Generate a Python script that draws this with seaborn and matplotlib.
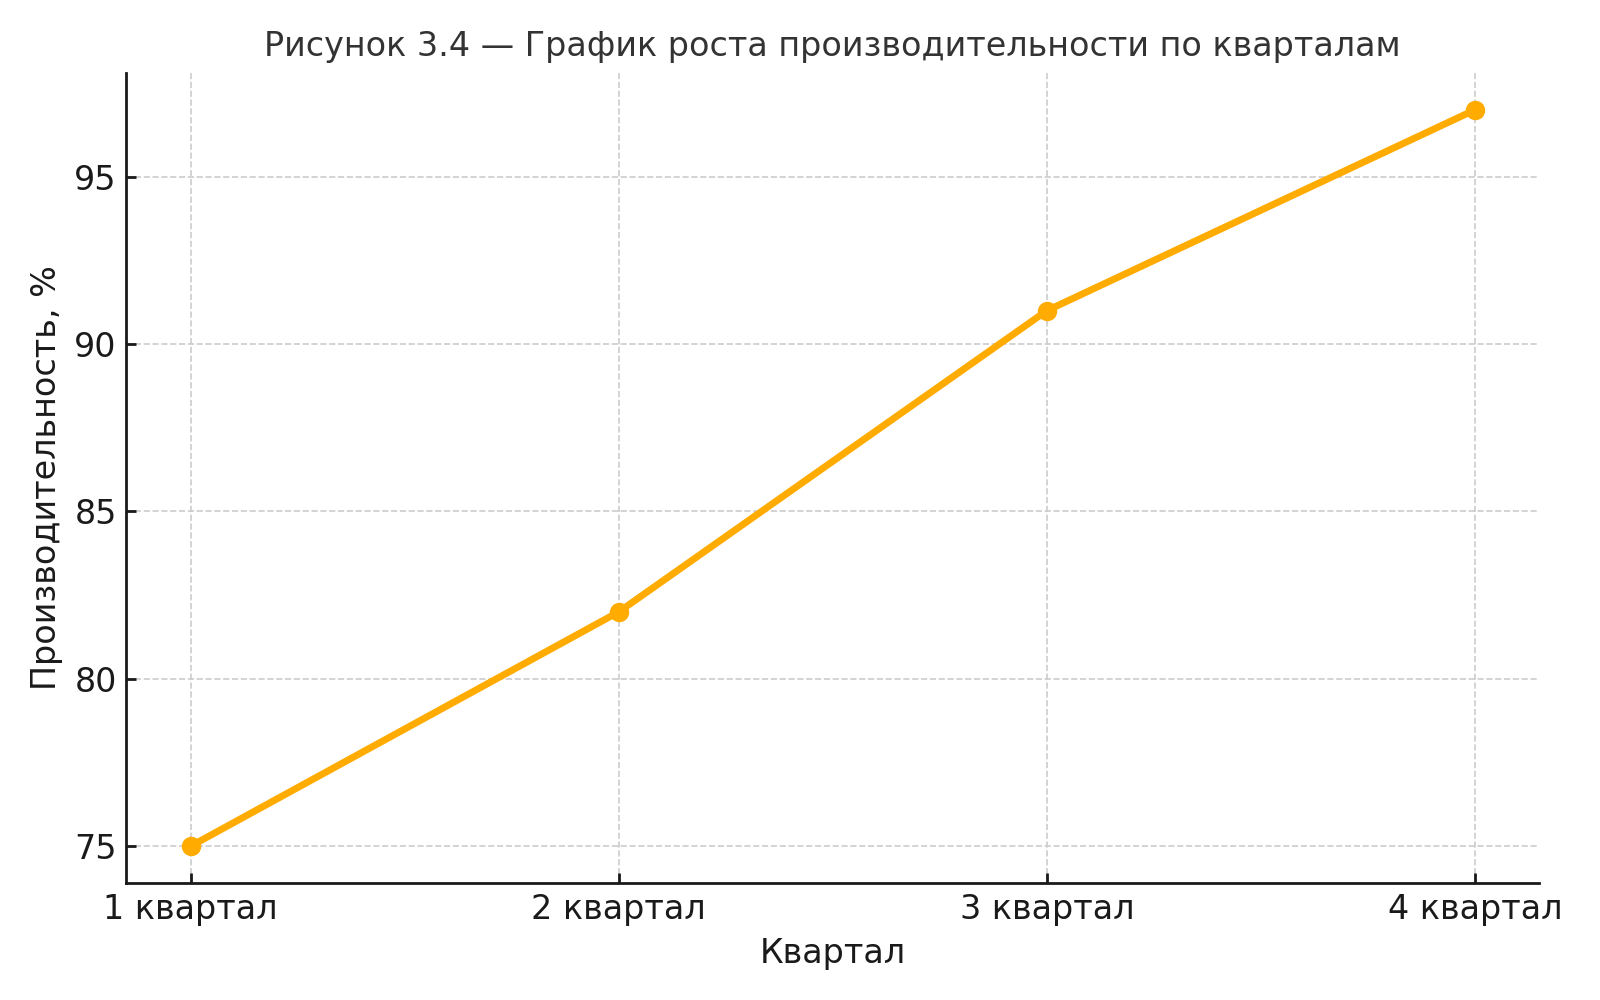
import matplotlib
matplotlib.use('Agg')
import pandas as pd
import matplotlib.pyplot as plt
import seaborn as sns

# data
quarters = ['1 квартал', '2 квартал', '3 квартал', '4 квартал']
productivity = [75, 82, 91, 97]

df = pd.DataFrame({'Квартал': quarters, 'Производительность': productivity})

sns.set_style('white')
plt.rcParams['font.family'] = ['DejaVu Sans']

fig, ax = plt.subplots(figsize=(8, 5), dpi=200)
sns.lineplot(data=df, x='Квартал', y='Производительность', marker='o',
             color='#ffab00', linewidth=2.5, markersize=7, markeredgewidth=0,
             sort=False, ax=ax)
ax.set_title('Рисунок 3.4 — График роста производительности по кварталам',
             fontsize=12, color='#333333')
ax.set_xlabel('Квартал', fontsize=12, color='#1a1a1a')
ax.set_ylabel('Производительность, %', fontsize=12, color='#1a1a1a')
ax.tick_params(axis='both', labelsize=12, colors='#1a1a1a', direction='in',
               length=3.5, width=1, left=True, bottom=True)
ax.grid(True, linestyle='--', color='#cccccc', linewidth=0.6)
ax.set_yticks([75, 80, 85, 90, 95])
sns.despine(ax=ax)
for s in ['left', 'bottom']:
    ax.spines[s].set_color('#1a1a1a')
    ax.spines[s].set_linewidth(1)
fig.subplots_adjust(left=0.079, right=0.962, top=0.927, bottom=0.117)
plt.savefig('out.png', dpi=200)
